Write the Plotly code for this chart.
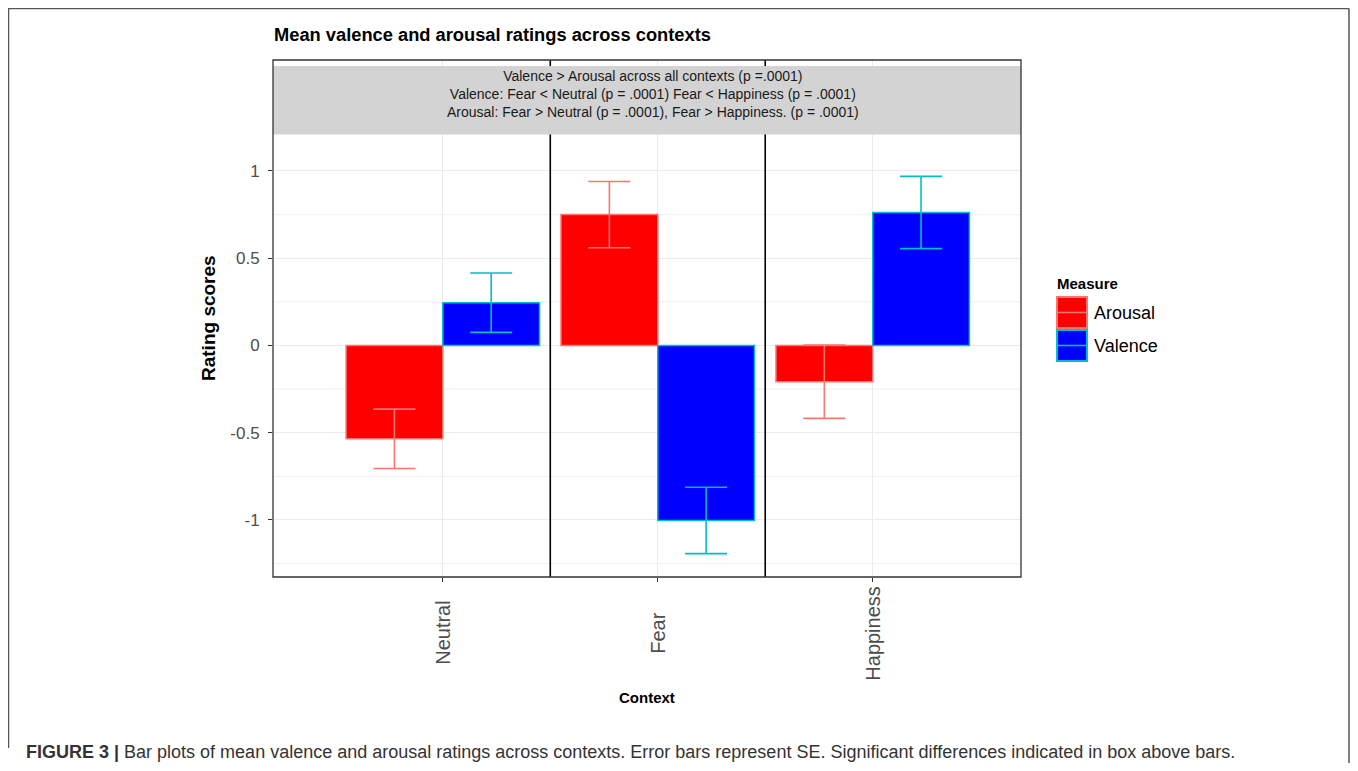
import plotly.graph_objects as go

# ---------------- data ----------------
contexts = ["Neutral", "Fear", "Happiness"]
measures = ["Arousal", "Valence"]
arousal_mean = [-0.535, 0.750, -0.208]
arousal_se = [0.170, 0.190, 0.210]
valence_mean = [0.245, -1.003, 0.762]
valence_se = [0.170, 0.190, 0.207]
y_tick_vals = [-1, -0.5, 0, 0.5, 1]
y_tick_text = ["-1", "-0.5", "0", "0.5", "1"]
y_minor_vals = [-1.25, -0.75, -0.25, 0.25, 0.75]
strip_lines = [
    "Valence > Arousal across all contexts (p =.0001)",
    "Valence: Fear < Neutral (p = .0001) Fear < Happiness (p = .0001)",
    "Arousal: Fear > Neutral (p = .0001), Fear > Happiness. (p = .0001)",
]
title_text = "Mean valence and arousal ratings across contexts"
caption_bold = "FIGURE 3 |"
caption_text = ("Bar plots of mean valence and arousal ratings across contexts. "
                "Error bars represent SE. Significant differences indicated in box above bars.")

fill_colors = ["#FF0000", "#0000FF"]
edge_colors = ["#F8766D", "#00BFC4"]

OFF = 8  # page body margin offset
W, H = 1358 - 2 * OFF, 771 - 2 * OFF
L, R, T, B = 273, 1021, 60, 577  # target page pixel positions of the plot area
FONT = "Liberation Sans, Arial, sans-serif"


def px(x):
    return (x - L) / (R - L)


def py(y):
    return (B - y) / (B - T)


fig = go.Figure()
for name, means, ses, fc, ec in zip(measures, [arousal_mean, valence_mean],
                                    [arousal_se, valence_se], fill_colors, edge_colors):
    fig.add_trace(go.Bar(
        x=contexts, y=means, name=name,
        marker=dict(color=fc, line=dict(color=ec, width=1.5)),
        error_y=dict(type="data", array=ses, visible=True, color=ec, thickness=1.6, width=21),
        showlegend=False,
    ))

shapes = []
# minor gridlines
for v in y_minor_vals:
    shapes.append(dict(type="line", xref="paper", yref="y", x0=0, x1=1, y0=v, y1=v,
                       line=dict(color="#F2F2F2", width=1.2), layer="below"))
# separators between contexts
for xv in [0.5, 1.5]:
    shapes.append(dict(type="line", xref="x", yref="paper", x0=xv, x1=xv, y0=0, y1=1,
                       line=dict(color="#000000", width=1.6), layer="above"))
# strip box
shapes.append(dict(type="rect", xref="paper", yref="paper", x0=0, x1=1,
                   y0=py(134.5), y1=py(66), fillcolor="#D3D3D3",
                   line=dict(width=0), layer="above"))
# panel border
shapes.append(dict(type="rect", xref="paper", yref="paper", x0=0, x1=1, y0=0, y1=1,
                   line=dict(color="#333333", width=1.3), layer="above"))

# legend keys (manual, ggplot style)
key_tops = [297, 330]
for i, name in enumerate(measures):
    y0, y1 = key_tops[i], key_tops[i] + 31
    shapes.append(dict(type="rect", xref="paper", yref="paper",
                       x0=px(1057), x1=px(1087), y0=py(y1), y1=py(y0),
                       fillcolor=fill_colors[i], line=dict(color=edge_colors[i], width=2)))
    shapes.append(dict(type="line", xref="paper", yref="paper",
                       x0=px(1058), x1=px(1086), y0=py((y0 + y1) / 2), y1=py((y0 + y1) / 2),
                       line=dict(color=edge_colors[i], width=1.6)))

# outer figure frame
frame_col = "#555555"
shapes.append(dict(type="line", xref="paper", yref="paper", x0=px(8), x1=px(1349),
                   y0=py(8.5), y1=py(8.5), line=dict(color=frame_col, width=1.5)))
shapes.append(dict(type="line", xref="paper", yref="paper", x0=px(8.5), x1=px(8.5),
                   y0=py(8.5), y1=py(748), line=dict(color=frame_col, width=1.5)))
shapes.append(dict(type="line", xref="paper", yref="paper", x0=px(1349), x1=px(1349),
                   y0=py(8.5), y1=py(771), line=dict(color=frame_col, width=1.5)))

annotations = [
    dict(text="<br>".join(strip_lines), xref="paper", yref="paper", x=px(653), y=py(66),
         xanchor="center", yanchor="top", showarrow=False, align="center",
         font=dict(family=FONT, size=14, color="#1A1A1A")),
    dict(text="<b>" + title_text + "</b>", xref="paper", yref="paper", x=px(272), y=py(35),
         xanchor="left", yanchor="middle", showarrow=False,
         font=dict(family=FONT, size=18.3, color="#000000")),
    dict(text="<b>Rating scores</b>", xref="paper", yref="paper", x=px(208), y=py(318),
         xanchor="center", yanchor="middle", showarrow=False, textangle=-90,
         font=dict(family=FONT, size=19, color="#000000")),
    dict(text="<b>Context</b>", xref="paper", yref="paper", x=px(647), y=py(697),
         xanchor="center", yanchor="middle", showarrow=False,
         font=dict(family=FONT, size=15, color="#000000")),
    dict(text="<b>Measure</b>", xref="paper", yref="paper", x=px(1055), y=py(283),
         xanchor="left", yanchor="middle", showarrow=False,
         font=dict(family=FONT, size=15, color="#000000")),
    dict(text="<b>" + caption_bold + "</b> " + caption_text, xref="paper", yref="paper",
         x=px(24), y=py(752), xanchor="left", yanchor="middle", showarrow=False,
         font=dict(family=FONT, size=18, color="#333333")),
]
for i, name in enumerate(measures):
    annotations.append(dict(text=name, xref="paper", yref="paper", x=px(1092),
                            y=py(key_tops[i] + 16), xanchor="left", yanchor="middle",
                            showarrow=False, font=dict(family=FONT, size=18, color="#000000")))
# category tick labels, centred (ggplot vjust/hjust 0.5 style)
for c in contexts:
    annotations.append(dict(text=c, xref="x", yref="paper", x=c, y=py(633),
                            xanchor="center", yanchor="middle", showarrow=False,
                            textangle=-90,
                            font=dict(family=FONT, size=20, color="#4D4D4D")))

fig.update_layout(
    width=W, height=H,
    margin=dict(l=L - OFF, r=(W + OFF) - R, t=T - OFF, b=(H + OFF) - B, pad=0),
    paper_bgcolor="white", plot_bgcolor="white",
    barmode="group", bargap=0.1, bargroupgap=0,
    shapes=shapes, annotations=annotations,
    font=dict(family=FONT),
)
fig.update_xaxes(
    type="category", range=[-0.79, 2.69],
    showgrid=True, gridcolor="#EBEBEB", gridwidth=1.3,
    ticks="outside", ticklen=4, tickcolor="#333333", tickwidth=1.2,
    showticklabels=False,
    showline=False, zeroline=False,
)
fig.update_yaxes(
    range=[-1.327, 1.636],
    tickvals=y_tick_vals, ticktext=y_tick_text,
    showgrid=True, gridcolor="#EBEBEB", gridwidth=1.3,
    ticks="outside", ticklen=4, tickcolor="#333333", tickwidth=1.2,
    ticklabelstandoff=5,
    tickfont=dict(family=FONT, size=17, color="#4D4D4D"),
    showline=False, zeroline=False,
)

fig.write_html("out.html")
